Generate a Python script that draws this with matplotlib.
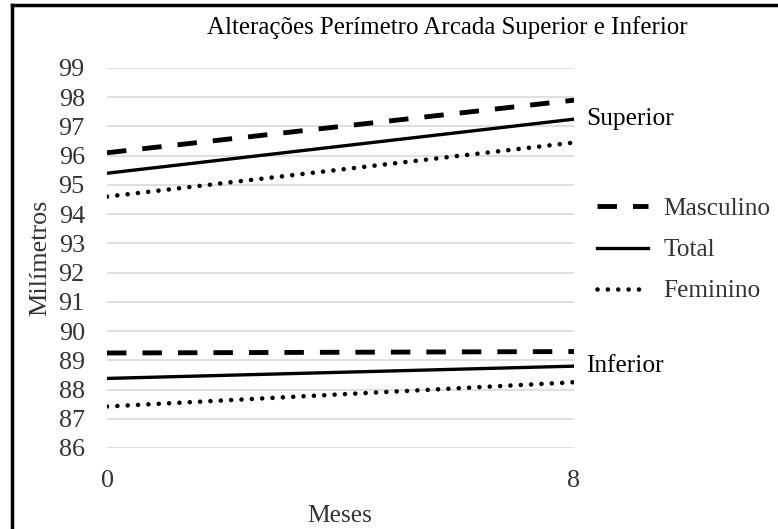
import matplotlib
matplotlib.use("Agg")
import matplotlib.pyplot as plt
from matplotlib.lines import Line2D

# Data
meses = [0, 8]
sup_masculino = [96.1, 97.9]
sup_total = [95.4, 97.25]
sup_feminino = [94.6, 96.45]
inf_masculino = [89.25, 89.3]
inf_total = [88.38, 88.8]
inf_feminino = [87.42, 88.25]
yticks = list(range(86, 100))
xticks = [0, 8]

plt.rcParams['font.family'] = ['Liberation Serif', 'DejaVu Serif']
TXT = '#333333'
FS = 18.3

W, H = 778, 529
fig = plt.figure(figsize=(W / 100, H / 100), dpi=100)
ax = fig.add_axes([107 / W, 1 - 448 / H, (574 - 107) / W, (448 - 68) / H])

dash_kw = dict(color='black', lw=3.5, linestyle=(0, (4.0, 3.3)), dash_capstyle='butt')
solid_kw = dict(color='black', lw=2.4)
dot_kw = dict(color='black', lw=3.3, linestyle=(0, (0.01, 2.25)), dash_capstyle='round')

ax.plot(meses, sup_masculino, **dash_kw)
ax.plot(meses, sup_total, **solid_kw)
ax.plot(meses, sup_feminino, **dot_kw)
ax.plot(meses, inf_masculino, **dash_kw)
ax.plot(meses, inf_total, **solid_kw)
ax.plot(meses, inf_feminino, **dot_kw)

ax.set_xlim(0, 8)
ax.set_ylim(86, 99)
ax.set_yticks(yticks)
ax.set_xticks(xticks)
ax.grid(axis='y', color='#d9d9d9', lw=1.2)
ax.set_axisbelow(True)
for s in ax.spines.values():
    s.set_visible(False)
ax.tick_params(axis='both', length=0, labelsize=FS + 0.5, labelcolor=TXT)
ax.tick_params(axis='y', pad=16)
ax.tick_params(axis='x', pad=16)

ax.annotate('Superior', xy=(8, sup_total[1]), xytext=(12, 0), textcoords='offset pixels',
            va='center', ha='left', fontsize=FS, color='black')
ax.annotate('Inferior', xy=(8, inf_total[1]), xytext=(12, 0), textcoords='offset pixels',
            va='center', ha='left', fontsize=FS, color='black')

fig.text(447 / W, 1 - 28 / H, 'Alterações Perímetro Arcada Superior e Inferior',
         ha='center', va='center', fontsize=17.9, color='black')
fig.text(340 / W, 1 - 516 / H, 'Meses', ha='center', va='center', fontsize=FS, color=TXT)
fig.text(40 / W, 1 - 258 / H, 'Milímetros', ha='center', va='center', rotation=90,
         fontsize=FS + 0.5, color=TXT)

handles = [Line2D([], [], **dash_kw), Line2D([], [], **solid_kw), Line2D([], [], **dot_kw)]
labels = ['Masculino', 'Total', 'Feminino']
leg = fig.legend(handles, labels, loc='center left', bbox_to_anchor=(597 / W, 1 - 250 / H),
                 frameon=False, fontsize=FS, handlelength=2.0, handletextpad=0.6,
                 labelspacing=0.72, borderpad=0, borderaxespad=0)
for t in leg.get_texts():
    t.set_color(TXT)

# frame
fig.add_artist(Line2D([12 / W, 12 / W], [0, 1 - 5 / H], color='black', lw=2.5))
fig.add_artist(Line2D([12 / W, 1], [1 - 5 / H, 1 - 5 / H], color='black', lw=2.5))

fig.savefig('out.png', dpi=100)
